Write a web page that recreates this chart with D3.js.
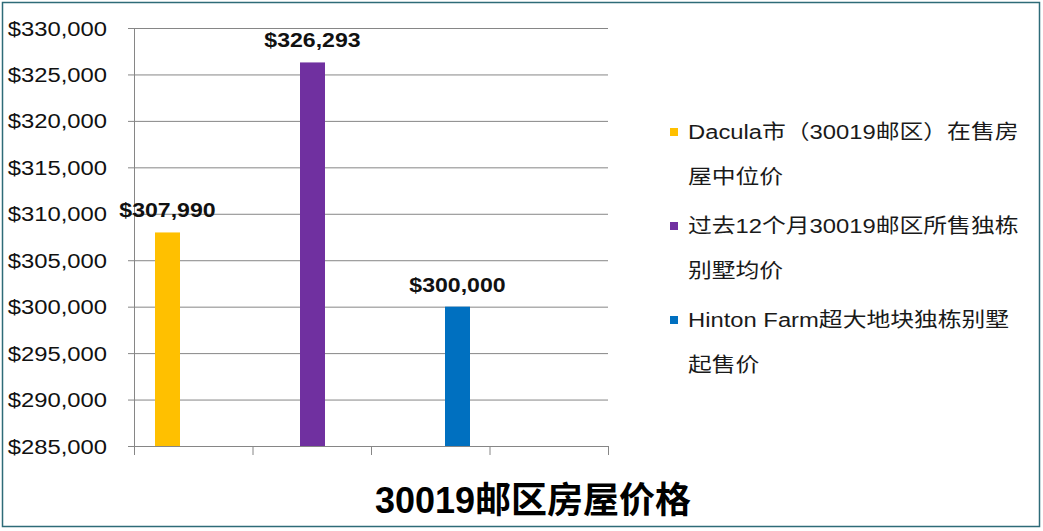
<!DOCTYPE html>
<html>
<head>
<meta charset="utf-8">
<script src="https://cdn.jsdelivr.net/npm/d3@7"></script>
<style>
  html, body { margin: 0; padding: 0; background: #fff; }
  svg { display: block; }
</style>
</head>
<body>
<div id="chart"></div>
<script>
// chart values
var seriesNames = [
  "Dacula市（30019邮区）在售房屋中位价",
  "过去12个月30019邮区所售独栋别墅均价",
  "Hinton Farm超大地块独栋别墅起售价"
];
// legend labels wrap like the original
var legendLines = [
  ["Dacula市（30019邮区）在售房", "屋中位价"],
  ["过去12个月30019邮区所售独栋", "别墅均价"],
  ["Hinton Farm超大地块独栋别墅", "起售价"]
];
var seriesValues = [307990, 326293, 300000];
var seriesColors = ["#FFC000", "#7030A0", "#0070C0"];
var yTicks = [285000, 290000, 295000, 300000, 305000, 310000, 315000, 320000, 325000, 330000];
var xDivisions = [0, 1, 2, 3, 4];
var chartTitle = "30019邮区房屋价格";

var width = 1043, height = 531;
var plotL = 134, plotR = 608, plotT = 28, plotB = 446;
var SX = 1.19;   // the original text is drawn a bit wide
var FONT = "'Liberation Sans', Arial, 'Noto Sans CJK SC', sans-serif";

var svg = d3.select("#chart").append("svg")
  .attr("width", width)
  .attr("height", height);

svg.append("rect")
  .attr("width", width).attr("height", height)
  .attr("fill", "#fff");

var y = d3.scaleLinear()
  .domain([yTicks[0], yTicks[yTicks.length - 1]])
  .range([plotB, plotT]);

var x = d3.scalePoint()
  .domain(seriesNames)
  .range([plotL + 33.5, plotL + 323.5]);

var xDiv = d3.scaleLinear()
  .domain([0, 4])
  .range([plotL, plotR]);

// y axis + gridlines
var yAxis = svg.append("g")
  .attr("transform", "translate(" + plotL + ",0)")
  .call(d3.axisLeft(y).tickValues(yTicks).tickSize(6).tickSizeOuter(0).tickFormat(d3.format("$,")));

yAxis.select(".domain").attr("stroke", "#868686");
yAxis.selectAll(".tick line")
  .attr("stroke", "#868686")
  .attr("x1", -6)
  .attr("x2", plotR - plotL);
yAxis.selectAll(".tick text")
  .attr("fill", "#111")
  .attr("font-family", FONT)
  .attr("font-size", 20)
  .attr("x", -27 / SX)
  .attr("dy", "0.35em")
  .attr("transform", "scale(" + SX + ",1)");

// bottom axis with division ticks, no labels
var xAxis = svg.append("g")
  .attr("transform", "translate(0," + plotB + ")")
  .call(d3.axisBottom(xDiv).tickValues(xDivisions).tickSize(9).tickSizeOuter(0).tickFormat(""));
xAxis.select(".domain").attr("stroke", "#868686");
xAxis.selectAll(".tick line").attr("stroke", "#868686");

// bars
var barW = 25;
svg.selectAll(".bar")
  .data(seriesValues)
  .enter()
  .append("rect")
  .attr("class", "bar")
  .attr("x", function(d, i) { return x(seriesNames[i]) - barW / 2; })
  .attr("y", function(d) { return y(d); })
  .attr("width", barW)
  .attr("height", function(d) { return plotB - y(d); })
  .attr("fill", function(d, i) { return seriesColors[i]; });

// value labels
svg.selectAll(".val")
  .data(seriesValues)
  .enter()
  .append("text")
  .attr("class", "val")
  .attr("transform", function(d, i) {
    return "translate(" + x(seriesNames[i]) + "," + (y(d) - 15) + ") scale(1.1,1)";
  })
  .attr("text-anchor", "middle")
  .attr("font-family", FONT)
  .attr("font-weight", "bold")
  .attr("font-size", 21)
  .attr("fill", "#111")
  .text(function(d) { return d3.format("$,")(d); });

// legend
var legend = svg.append("g").attr("transform", "translate(670,0)");
var items = legend.selectAll(".item")
  .data(legendLines)
  .enter()
  .append("g")
  .attr("class", "item")
  .attr("transform", function(d, i) { return "translate(0," + (132 + i * 94) + ")"; });

items.append("rect")
  .attr("x", 0).attr("y", -4)
  .attr("width", 8).attr("height", 8)
  .attr("fill", function(d, i) { return seriesColors[i]; });

items.each(function(lines) {
  var g = d3.select(this);
  lines.forEach(function(t, j) {
    g.append("text")
      .attr("transform", "translate(18," + (j * 45) + ") scale(" + SX + ",1)")
      .attr("dy", "0.36em")
      .attr("font-family", FONT)
      .attr("font-size", 20)
      .attr("fill", "#1a1a1a")
      .text(t);
  });
});

// title
svg.append("text")
  .attr("x", 533)
  .attr("y", 513)
  .attr("text-anchor", "middle")
  .attr("font-family", FONT)
  .attr("font-weight", "bold")
  .attr("font-size", 36)
  .attr("fill", "#000")
  .text(chartTitle);

// frame
svg.append("rect")
  .attr("x", 2.5).attr("y", 2.5)
  .attr("width", 1037).attr("height", 524)
  .attr("fill", "none")
  .attr("stroke", "#2e6b78")
  .attr("stroke-width", 1.5);
</script>
</body>
</html>
